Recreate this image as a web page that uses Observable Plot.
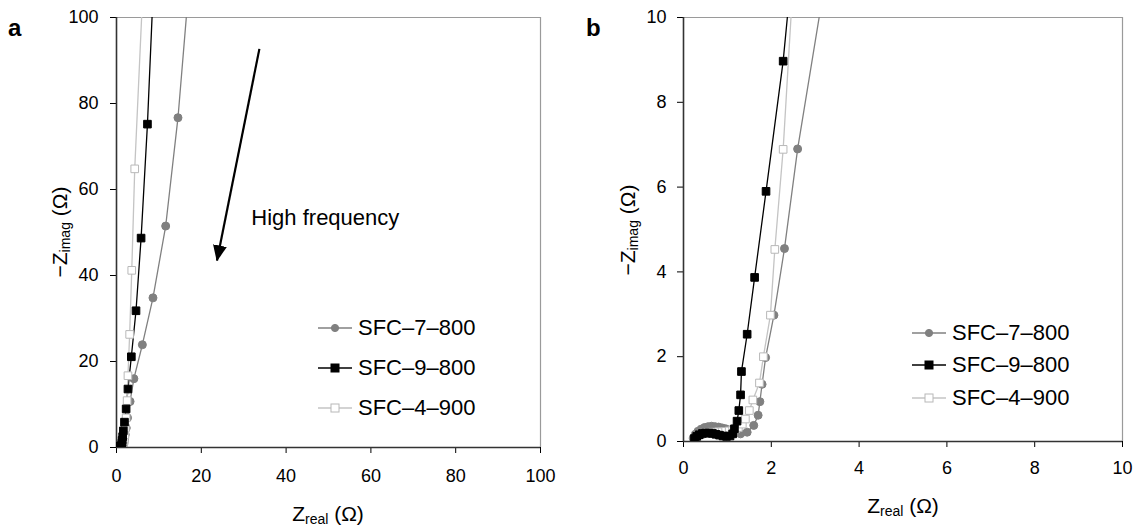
<!DOCTYPE html>
<html><head><meta charset="utf-8">
<script src="https://cdn.jsdelivr.net/npm/d3@7"></script>
<script src="https://cdn.jsdelivr.net/npm/@observablehq/plot@0.6"></script>
<style>
body{margin:0;background:#fff;font-family:"Liberation Sans",Arial,sans-serif;}
#wrap{position:relative;width:1133px;height:527px;overflow:hidden;background:#fff;}
.panel{position:absolute;top:0;}
.t{position:absolute;font-size:21px;color:#000;white-space:nowrap;transform:translate(-50%,-50%);line-height:1;}
.t sub{font-size:14px;vertical-align:-3px;}
.rot{transform:translate(-50%,-50%) rotate(-90deg);}
.pl{position:absolute;font-size:24px;font-weight:bold;line-height:1;}
.leg{position:absolute;display:flex;align-items:center;font-size:22px;line-height:1;white-space:nowrap;transform:translateY(-50%);}
.leg svg{margin-right:6px;}
</style></head>
<body><div id="wrap"></div>
<script>
// ---- data ----
const seriesNames = ["SFC–7–800", "SFC–9–800", "SFC–4–900"];
const sfc7x = [0.22,0.27,0.33,0.40,0.48,0.56,0.64,0.72,0.80,0.88,0.96,1.04,1.12,1.20,1.30,1.45,1.60,1.70,1.74,1.79,1.87,2.06,2.30,2.60,3.20,4.10,6.10,8.60,11.6,14.5,16.8];
const sfc7y = [0.08,0.17,0.24,0.29,0.33,0.35,0.36,0.35,0.34,0.32,0.30,0.27,0.24,0.21,0.18,0.22,0.38,0.62,0.94,1.35,1.98,2.98,4.55,6.90,10.7,16.0,23.9,34.8,51.5,76.7,104];
const sfc9x = [0.25,0.30,0.36,0.43,0.50,0.58,0.66,0.74,0.82,0.90,0.98,1.06,1.12,1.16,1.22,1.26,1.30,1.32,1.45,1.62,1.88,2.27,2.70,3.50,4.60,5.80,7.30,8.60];
const sfc9y = [0.07,0.12,0.16,0.19,0.20,0.20,0.19,0.17,0.15,0.13,0.12,0.13,0.18,0.30,0.48,0.73,1.10,1.65,2.53,3.87,5.90,8.97,13.6,21.1,31.8,48.7,75.2,105];
const sfc4x = [0.27,0.33,0.40,0.48,0.56,0.64,0.72,0.80,0.88,0.96,1.04,1.12,1.19,1.25,1.34,1.41,1.50,1.58,1.73,1.82,1.98,2.08,2.27,2.50,2.70,3.10,3.60,4.30,6.20];
const sfc4y = [0.05,0.12,0.17,0.20,0.21,0.22,0.22,0.23,0.23,0.24,0.25,0.27,0.30,0.33,0.41,0.53,0.73,0.98,1.38,2.00,2.98,4.53,6.89,10.9,16.7,26.3,41.2,64.8,106];
const ticksA = [0,20,40,60,80,100];
const ticksB = [0,2,4,6,8,10];
const arrowA = [{x1:33.7, y1:92.7, x2:23.7, y2:43.5}];
const noteA = [{x:31.8, y:53.3, text:"High frequency"}];

const styles = [
  {name:seriesNames[0], xs:sfc7x, ys:sfc7y, stroke:"#808080", fill:"#808080", symbol:"circle", r:4, mstroke:"#808080"},
  {name:seriesNames[1], xs:sfc9x, ys:sfc9y, stroke:"#000000", fill:"#000000", symbol:"square", r:4.3, mstroke:"#000"},
  {name:seriesNames[2], xs:sfc4x, ys:sfc4y, stroke:"#c4c4c4", fill:"#ffffff", symbol:"square", r:4.3, mstroke:"#b8b8b8"}
];
const rows = styles.map(s => s.xs.map((x,i)=>({x, y:s.ys[i], s:s.name})));

function seriesMarks(){
  const m = [];
  styles.forEach((s,k)=>{
    m.push(Plot.line(rows[k], {x:"x", y:"y", stroke:s.stroke, strokeWidth:1.3, clip:true}));
  });
  // draw in order: grey, light, black on top
  [0,2,1].forEach(k=>{
    const s = styles[k];
    m.push(Plot.dot(rows[k], {x:"x", y:"y", symbol:s.symbol, r:s.r, fill:s.fill, stroke:s.mstroke, strokeWidth:1, clip:true}));
  });
  return m;
}

function frame(max, axisColor){
  return [
    Plot.ruleY([max], {stroke:"#9a9a9a", strokeWidth:1.2}),
    Plot.ruleX([max], {stroke:"#9a9a9a", strokeWidth:1.2}),
    Plot.ruleX([0], {stroke:"#333", strokeWidth:1.6}),
    Plot.ruleY([0], {stroke:"#333", strokeWidth:1.6})
  ];
}

const common = {fontFamily:'"Liberation Sans",Arial,sans-serif', fontSize:"18px", color:"#000", background:"transparent", overflow:"visible"};

const plotA = Plot.plot({
  width:560, height:527, marginLeft:116, marginRight:20, marginTop:17, marginBottom:80,
  style:common,
  x:{domain:[0,100], ticks:ticksA, label:null, tickSize:6, tickPadding:16},
  y:{domain:[0,100], ticks:ticksA, label:null, tickSize:6, tickPadding:12},
  marks:[
    ...frame(100),
    ...seriesMarks(),
    Plot.link(arrowA, {x1:"x1", y1:"y1", x2:"x2", y2:"y2", stroke:"#000", strokeWidth:2.2}),
    Plot.text(noteA, {x:"x", y:"y", text:"text", textAnchor:"start", fontSize:22, fill:"#000"})
  ]
});
const plotB = Plot.plot({
  width:563, height:527, marginLeft:113, marginRight:11, marginTop:17, marginBottom:86,
  style:common,
  x:{domain:[0,10], ticks:ticksB, label:null, tickSize:6, tickPadding:14},
  y:{domain:[0,10], ticks:ticksB, label:null, tickSize:6, tickPadding:11},
  marks:[...frame(10), ...seriesMarks()]
});

const wrap = document.getElementById("wrap");
plotA.classList.add("panel"); plotA.style.left="0px";
plotB.classList.add("panel"); plotB.style.left="570px";
wrap.appendChild(plotA); wrap.appendChild(plotB);

// filled arrowhead on the annotation arrow
const svgA = d3.select(plotA);
const defs = svgA.insert("defs", ":first-child");
defs.append("marker").attr("id","tri").attr("markerUnits","userSpaceOnUse")
  .attr("viewBox","0 0 16 14").attr("markerWidth",16).attr("markerHeight",14)
  .attr("refX",15).attr("refY",7).attr("orient","auto")
  .append("path").attr("d","M0,0L16,7L0,14z").attr("fill","#000");
svgA.selectAll('g[aria-label="link"] path').attr("marker-end","url(#tri)");

function addText(html, left, top, cls){
  const d = document.createElement("div");
  d.className = cls; d.innerHTML = html;
  d.style.left = left+"px"; d.style.top = top+"px";
  wrap.appendChild(d);
}
addText("Z<sub>real</sub> (Ω)", 328, 514, "t");
addText("Z<sub>real</sub> (Ω)", 903, 506, "t");
addText("−Z<sub>imag</sub> (Ω)", 60, 232, "t rot");
addText("−Z<sub>imag</sub> (Ω)", 628, 230, "t rot");
addText("a", 8, 16, "pl");
addText("b", 586, 16, "pl");

function legend(x, ys){
  styles.forEach((s,k)=>{
    const d = document.createElement("div");
    d.className="leg"; d.style.left = x+"px"; d.style.top = ys[k]+"px";
    const shape = s.symbol==="circle"
      ? `<circle cx="17" cy="7" r="3.6" fill="${s.fill}" stroke="${s.mstroke}"/>`
      : `<rect x="13" y="3" width="8" height="8" fill="${s.fill}" stroke="${s.mstroke}"/>`;
    d.innerHTML = `<svg width="34" height="14"><line x1="0" x2="34" y1="7" y2="7" stroke="${s.stroke}" stroke-width="1.3"/>${shape}</svg><span>${s.name}</span>`;
    wrap.appendChild(d);
  });
}
legend(318, [328, 368, 408]);
legend(912, [333, 365, 398]);
</script></body></html>
